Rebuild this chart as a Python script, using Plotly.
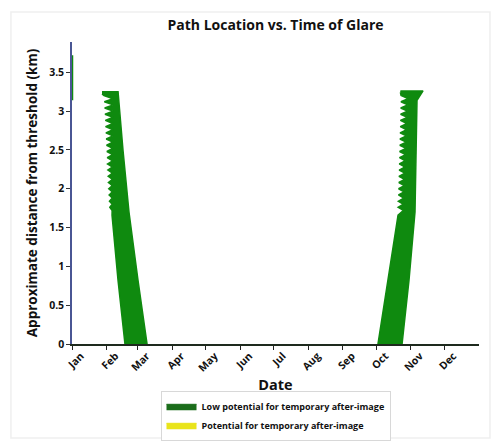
import pandas as pd
import plotly.graph_objects as go

# ---------------- data ----------------
YEAR_START = "2021-01-01"
month_ticks = ["2021-01-01", "2021-02-01", "2021-03-01", "2021-04-01", "2021-05-01", "2021-06-01",
               "2021-07-01", "2021-08-01", "2021-09-01", "2021-10-01", "2021-11-01", "2021-12-01"]
month_labels = ["Jan", "Feb", "Mar", "Apr", "May", "Jun", "Jul", "Aug", "Sep", "Oct", "Nov", "Dec"]
y_ticks = [0, 0.5, 1, 1.5, 2, 2.5, 3, 3.5]
y_tick_labels = ["0", "0.5", "1", "1.5", "2", "2.5", "3", "3.5"]

# Feb/Mar glare band outline: day of year (days after Jan 1) and distance (km)
band1_day = [26.9, 41.3, 45.7, 51.1, 59.2, 67.3, 47.5, 41.3, 35.9,
             36.0, 33.9, 36.1, 33.6, 36.1, 33.3, 36.2, 33.0, 36.2, 32.7,
             36.3, 32.5, 36.3, 32.2, 36.4, 31.9, 36.4, 31.6, 36.5, 31.3,
             36.5, 31.0, 36.6, 30.7, 36.6, 30.4, 36.7, 30.1, 36.7, 29.9,
             36.8, 29.6, 36.8, 29.3, 36.9, 29.0, 36.9, 28.7, 26.9]
band1_km = [3.25, 3.25, 2.50, 1.70, 0.82, 0.0, 0.0, 0.82, 1.66,
            1.72, 1.76, 1.80, 1.84, 1.88, 1.92, 1.96, 2.00, 2.04, 2.08,
            2.12, 2.16, 2.20, 2.24, 2.28, 2.32, 2.36, 2.40, 2.44, 2.48,
            2.52, 2.56, 2.60, 2.64, 2.68, 2.72, 2.76, 2.80, 2.84, 2.88,
            2.92, 2.96, 3.00, 3.04, 3.08, 3.12, 3.16, 3.20, 3.22]

# Oct/Nov glare band outline
band2_day = [294.5, 314.8, 309.4, 307.6, 302.2, 296.0, 274.4, 283.4, 292.4,
             297.1, 292.5, 297.3, 292.7, 297.5, 292.8, 297.8, 292.9, 298.0, 293.1,
             298.3, 293.2, 298.5, 293.4, 298.7, 293.5, 299.0, 293.7, 299.2, 293.8,
             299.5, 294.0, 299.7, 294.1, 299.9, 294.2, 300.2, 294.4, 300.4, 294.5,
             300.7, 294.7, 300.9, 294.8, 301.1, 295.0, 301.4, 295.1, 294.5]
band2_km = [3.26, 3.26, 3.14, 1.70, 0.82, 0.0, 0.0, 0.82, 1.66,
            1.72, 1.76, 1.80, 1.84, 1.88, 1.92, 1.96, 2.00, 2.04, 2.08,
            2.12, 2.16, 2.20, 2.24, 2.28, 2.32, 2.36, 2.40, 2.44, 2.48,
            2.52, 2.56, 2.60, 2.64, 2.68, 2.72, 2.76, 2.80, 2.84, 2.88,
            2.92, 2.96, 3.00, 3.04, 3.08, 3.12, 3.16, 3.20, 3.24]

# short glare trace seen on Jan 1
jan_day = [0.0, 0.0]
jan_km = [3.14, 3.72]

series_names = ["Low potential for temporary after-image", "Potential for temporary after-image"]


def to_dates(days):
    return pd.Timestamp(YEAR_START) + pd.to_timedelta(days, unit="D")


GREEN = "#0f8a0f"
LEGEND_GREEN = "#1b6d1b"
YELLOW = "#e9e41a"

fig = go.Figure()

for days, km in [(band1_day, band1_km), (band2_day, band2_km)]:
    fig.add_trace(go.Scatter(
        x=to_dates(days), y=km, mode="lines", fill="toself",
        fillcolor=GREEN, line=dict(color=GREEN, width=1.5),
        showlegend=False, hoverinfo="skip"))

fig.add_trace(go.Scatter(
    x=to_dates(jan_day), y=jan_km, mode="lines",
    line=dict(color=GREEN, width=2.5), showlegend=False, hoverinfo="skip"))

# legend entries
fig.add_trace(go.Scatter(x=[None], y=[None], mode="lines", fill="toself",
                         fillcolor=LEGEND_GREEN, line=dict(color=LEGEND_GREEN, width=1),
                         name="<b>" + series_names[0] + "</b>"))
fig.add_trace(go.Scatter(x=[None], y=[None], mode="lines", fill="toself",
                         fillcolor=YELLOW, line=dict(color=YELLOW, width=1),
                         name="<b>" + series_names[1] + "</b>"))

FONT = "Open Sans"

fig.update_layout(
    width=493, height=442,
    margin=dict(l=72, r=14, t=42, b=98, autoexpand=False),
    paper_bgcolor="white", plot_bgcolor="white",
    font=dict(family=FONT, color="#111"),
    title=dict(text="<b>Path Location vs. Time of Glare</b>", x=0.5, xref="paper",
               y=0.943, yref="container", yanchor="middle",
               font=dict(size=14, family=FONT, color="#111")),
    showlegend=True,
    legend=dict(orientation="v", x=0.5, xanchor="center", y=-0.155, yanchor="top",
                bordercolor="#d8d8d8", borderwidth=1, bgcolor="white",
                font=dict(size=9, family=FONT, color="#111"),
                itemwidth=30, tracegroupgap=0),
    shapes=[dict(type="rect", xref="paper", yref="paper", x0=-0.150, x1=1.027,
                 y0=-0.311, y1=1.099, line=dict(color="#efefef", width=1.5), layer="below")],
)

fig.update_xaxes(
    type="date", range=[to_dates([0.0])[0], to_dates([365.0])[0]],
    tickmode="array", tickvals=month_ticks, ticktext=["<b>" + m + "</b>" for m in month_labels],
    tickangle=-45, ticks="outside", ticklen=4, tickcolor="#222",
    tickfont=dict(size=10.5, family=FONT, color="#111"),
    ticklabelshift=9, ticklabelstandoff=-4, automargin=False,
    showline=True, linecolor="#1e2a1e", linewidth=1.5, showgrid=False, zeroline=False,
    title=dict(text="<b>Date</b>", font=dict(size=14.5, family=FONT, color="#111"), standoff=6),
)
fig.update_yaxes(
    range=[0, 3.89], tickmode="array", tickvals=y_ticks, ticktext=["<b>" + t + "</b>" for t in y_tick_labels],
    ticks="outside", ticklen=4, tickcolor="#333", automargin=False,
    tickfont=dict(size=10.5, family=FONT, color="#111"),
    showline=True, linecolor="#4a5694", linewidth=1.5, showgrid=False, zeroline=False,
    title=dict(text="<b>Approximate distance from threshold (km)</b>",
               font=dict(size=13.5, family=FONT, color="#111"), standoff=8),
)

fig.write_html("out.html", config={"displayModeBar": False},
               post_script="document.body.style.margin='0';")
